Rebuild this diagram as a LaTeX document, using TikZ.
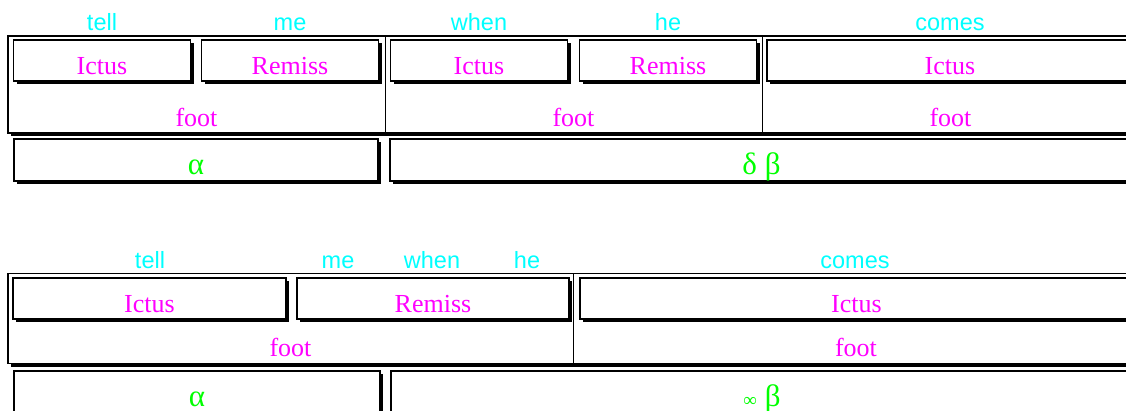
\documentclass[tikz,border=0pt]{standalone}
\usepackage{fontspec}
\setmainfont{Liberation Serif}
\newfontfamily\wordfont{Liberation Sans}
\usetikzlibrary{positioning,shadows}
\definecolor{WordCyan}{HTML}{00FFFF}
\definecolor{LabelMagenta}{HTML}{FF00FF}
\definecolor{GreekGreen}{HTML}{00FF00}

\begin{document}
\begin{tikzpicture}[x=1pt,y=-1pt,
    cell/.style={draw,line width=1.2pt,fill=white,minimum height=41pt,inner sep=0pt,
                 text height=28pt,text depth=0pt,text=LabelMagenta,
                 font=\fontsize{26}{30}\selectfont,
                 drop shadow={shadow xshift=3.2pt,shadow yshift=-3.2pt,fill=black,opacity=1}},
    greek/.style={cell,minimum height=42pt,text=GreekGreen,font=\fontsize{31}{34}\selectfont},
    frame/.style={draw,line width=1.5pt,fill=white,inner sep=0pt,
                  drop shadow={shadow xshift=3pt,shadow yshift=-3pt,fill=black,opacity=1}},
    foot/.style={inner sep=0pt},
    sep/.style={line width=1pt},
    word/.style={anchor=base,inner sep=0pt,text=WordCyan,font=\wordfont\fontsize{23.5}{28}\selectfont},
    lbl/.style={anchor=base,inner sep=0pt,text=LabelMagenta,font=\fontsize{26}{30}\selectfont}]
    \useasboundingbox (0,0) rectangle (1126,410);
    \clip (0,0) rectangle (1126,410);

    \node[frame,minimum width=1131pt,minimum height=97pt] (fr1) at (573.5,84.5) {};
    \node[foot,minimum width=377pt,minimum height=97pt] (f1) at (196.5,84.5) {};
    \node[foot,minimum width=377pt,minimum height=97pt] (f2) at (573.5,84.5) {};
    \node[foot,minimum width=377pt,minimum height=97pt] (f3) at (950.5,84.5) {};
    \draw[sep] (f1.north east) -- (f1.south east);
    \draw[sep] (f2.north east) -- (f2.south east);
    \node[cell,minimum width=177pt] (ic1) at (102,60.5) {Ictus};
    \node[cell,minimum width=177pt] (re1) at (290,60.5) {Remiss};
    \node[cell,minimum width=177pt] (ic2) at (479,60.5) {Ictus};
    \node[cell,minimum width=177pt] (re2) at (668,60.5) {Remiss};
    \node[cell,minimum width=366pt] (ic3) at (950,60.5) {Ictus};
    \node[lbl] (f1t) at ([yshift=7pt]f1.south) {foot};
    \node[lbl] (f2t) at ([yshift=7pt]f2.south) {foot};
    \node[lbl] (f3t) at ([yshift=7pt]f3.south) {foot};
    \node[greek,minimum width=364pt] (al1) at (196,160) {α};
    \node[greek,minimum width=743pt] (db1) at (761.5,160) {δ β};
    \node[word] (w1) at (102,30) {tell};
    \node[word] (w2) at (290,30) {me};
    \node[word] (w3) at (479,30) {when};
    \node[word] (w4) at (668,30) {he};
    \node[word] (w5) at (950,30) {comes};

    \node[frame,minimum width=1131pt,minimum height=90pt] (fr2) at (573.5,318.5) {};
    \node[foot,minimum width=565pt,minimum height=90pt] (g1) at (290.5,318.5) {};
    \node[foot,minimum width=566pt,minimum height=90pt] (g2) at (856,318.5) {};
    \draw[sep] (g1.north east) -- (g1.south east);
    \node[cell,minimum width=273pt] (ic4) at (149.5,298.5) {Ictus};
    \node[cell,minimum width=272pt] (re4) at (433,298.5) {Remiss};
    \node[cell,minimum width=553pt] (ic5) at (856.5,298.5) {Ictus};
    \node[lbl] (g1t) at ([yshift=7.5pt]g1.south) {foot};
    \node[lbl] (g2t) at ([yshift=7.5pt]g2.south) {foot};
    \node[greek,minimum width=366pt] (al2) at (197,392) {α};
    \node[greek,minimum width=742pt] (ib2) at (762,392) {{\fontsize{19}{20}\selectfont ∞} β};
    \node[word] (v1) at (150,268) {tell};
    \node[word] (v2) at (338,268) {me};
    \node[word] (v3) at (432,268) {when};
    \node[word] (v4) at (527,268) {he};
    \node[word] (v5) at (855,268) {comes};
  \end{tikzpicture}
\end{document}
